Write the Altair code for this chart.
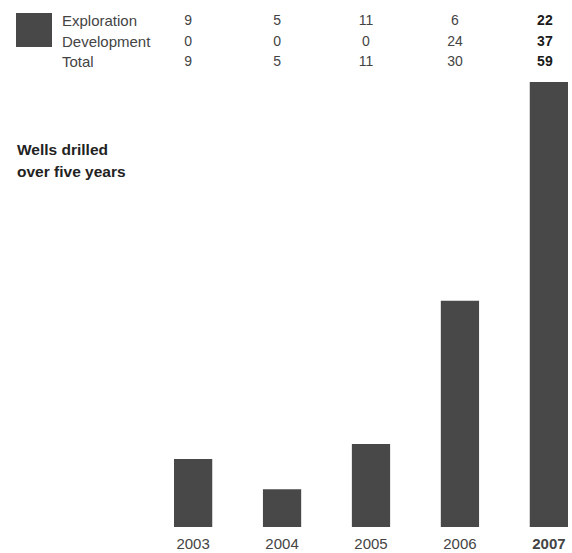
import altair as alt
import pandas as pd

years = ["2003", "2004", "2005", "2006", "2007"]
exploration = [9, 5, 11, 6, 22]
development = [0, 0, 0, 24, 37]
total = [9, 5, 11, 30, 59]
row_labels = ["Exploration", "Development", "Total"]
title_lines = ["Wells drilled", "over five years"]

FONT = "Liberation Sans"
BAR = "#484848"

bar_df = pd.DataFrame({"year": years, "total": total})
rows = []
for lab, vals in zip(row_labels, [exploration, development, total]):
    for y, v in zip(years, vals):
        rows.append({"row": lab, "year": y, "value": v})
table_df = pd.DataFrame(rows)
label_df = pd.DataFrame({"row": row_labels})

xscale = alt.Scale(type="band", range=[174, 568], paddingInner=0.57, paddingOuter=0)
xaxis = alt.Axis(
    title=None, domain=False, ticks=False, labelAngle=0, labelFontSize=15,
    labelFont=FONT, labelPadding=1, labelColor="#444",
    labelFontWeight={"condition": {"test": "datum.value == '2007'", "value": "bold"}, "value": "normal"},
)
rowscale = alt.Scale(type="point", domain=row_labels, range=[21, 62], padding=0)

bars = alt.Chart(bar_df).mark_bar(color=BAR).encode(
    x=alt.X("year:N", scale=xscale, axis=xaxis, sort=years),
    y=alt.Y("total:Q", scale=alt.Scale(domain=[0, 59], range=[527, 82], nice=False, zero=True), axis=None),
)

table_base = alt.Chart(table_df).encode(
    x=alt.X("year:N", scale=xscale, axis=xaxis, sort=years),
    y=alt.Y("row:N", scale=rowscale, axis=None),
    text="value:Q",
)
table_normal = table_base.mark_text(fontSize=14, font=FONT, dx=-5, baseline="middle", color="#444444").transform_filter(
    alt.datum.year != "2007"
)
table_bold = table_base.mark_text(fontSize=14, font=FONT, dx=-4, baseline="middle", fontWeight="bold", color="#1a1a1a").transform_filter(
    alt.datum.year == "2007"
)

labels = alt.Chart(label_df).mark_text(fontSize=15, font=FONT, align="left", baseline="middle", color="#444").encode(
    x=alt.value(62),
    y=alt.Y("row:N", scale=rowscale, axis=None),
    text="row:N",
)

swatch = alt.Chart(alt.Data(values=[{}])).mark_rect(color=BAR).encode(
    x=alt.value(16), x2=alt.value(52), y=alt.value(13), y2=alt.value(47)
)

title = alt.Chart(alt.Data(values=[{}])).mark_text(
    text=title_lines, fontSize=15.5, font=FONT, fontWeight="bold", align="left",
    baseline="top", lineHeight=22, color="#222"
).encode(x=alt.value(17), y=alt.value(143))

chart = alt.layer(bars, table_normal, table_bold, labels, swatch, title).resolve_scale(y="independent").properties(
    width=572, height=535,
    autosize=alt.AutoSizeParams(type="none"),
    padding={"left": 0, "right": 0, "top": 0, "bottom": 18},
).configure_view(stroke=None)

chart.save("out.html", embed_options={"renderer": "svg", "actions": False})
